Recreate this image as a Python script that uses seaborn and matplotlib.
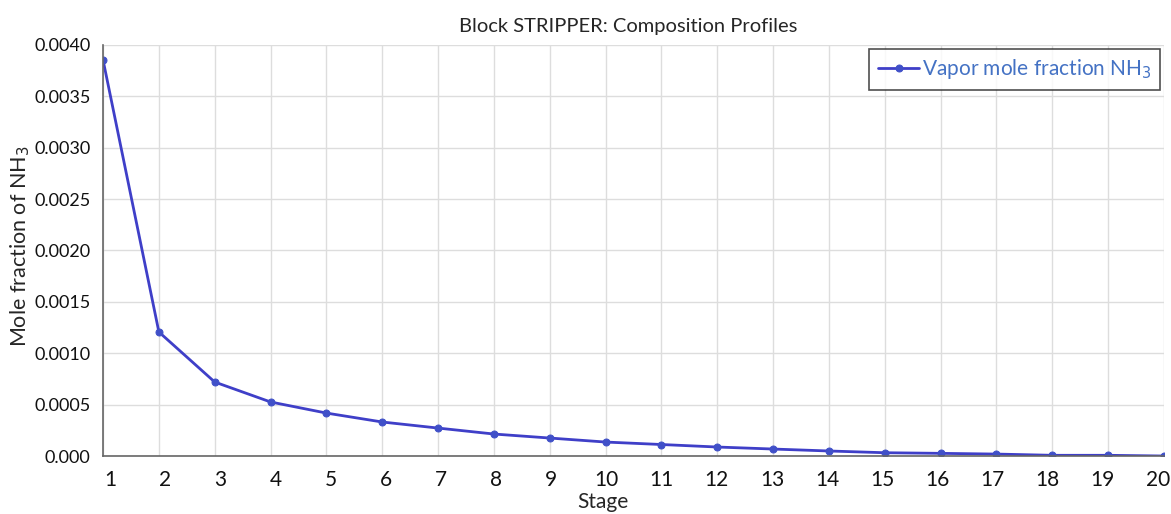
import matplotlib
matplotlib.use("Agg")
import matplotlib.pyplot as plt
import matplotlib.transforms as mtransforms
import seaborn as sns
import pandas as pd

stages = list(range(1, 21))
vapor_nh3 = [0.003854, 0.001207, 0.000720, 0.000526, 0.000418, 0.000331, 0.000272,
             0.000214, 0.000175, 0.000136, 0.000112, 0.0000876, 0.000068, 0.000049,
             0.000032, 0.000026, 0.000019, 0.000007, 0.000007, 0.0]
yticks = [0.0, 0.0005, 0.0010, 0.0015, 0.0020, 0.0025, 0.0030, 0.0035, 0.0040]
ytick_labels = ["0.000", "0.0005", "0.0010", "0.0015", "0.0020", "0.0025", "0.0030", "0.0035", "0.0040"]

sns.set_theme(style="whitegrid")
plt.rcParams['font.family'] = ['Lato', 'DejaVu Sans']

df = pd.DataFrame({"Stage": stages, "y": vapor_nh3})

fig = plt.figure(figsize=(11.71, 5.14), dpi=100)
ax = fig.add_axes([0.088, 0.1128, 0.906, 0.7997])
sns.lineplot(data=df, x="Stage", y="y", ax=ax, color="#3F3FC8", linewidth=2,
             marker="o", markersize=5, markerfacecolor="#4050C8", markeredgecolor="#4050C8",
             label="Vapor mole fraction NH$_3$")
ax.set_xlim(1, 20)
ax.set_ylim(0, 0.004)
ax.set_xticks(stages)
ax.set_yticks(yticks)
ax.set_yticklabels(ytick_labels)
ax.tick_params(axis='y', labelsize=13, colors="#111111", length=0, pad=9)
ax.tick_params(axis='x', labelsize=15, colors="#111111", length=0, pad=10)
n = len(stages)
for i, lab in enumerate(ax.get_xticklabels()):
    dx = (7 - 13 * i / (n - 1)) / 100.0
    lab.set_transform(lab.get_transform() + mtransforms.ScaledTranslation(dx, 0, fig.dpi_scale_trans))
ax.grid(True, color="#DDDDDD", linewidth=1)
for s in ["top", "right"]:
    ax.spines[s].set_visible(False)
for s in ["left", "bottom"]:
    ax.spines[s].set_color("#666666")
    ax.spines[s].set_linewidth(1.2)
ax.set_xlabel("Stage", fontsize=15)
ax.xaxis.set_label_coords(0.471, -0.088)
ax.xaxis.label.set_va("top")
ax.set_ylabel("Mole fraction of NH$_3$", fontsize=15.5)
ax.yaxis.set_label_coords(-0.067, 0.511)
ax.set_title("Block STRIPPER: Composition Profiles", fontsize=14.5, pad=9, x=0.495)
leg = ax.legend(loc="upper right", fontsize=15, frameon=True, fancybox=False,
                edgecolor="#222222", handlelength=2.0, handletextpad=0.1,
                borderaxespad=0.2, borderpad=0.4)
leg.get_frame().set_linewidth(1.2)
for t in leg.get_texts():
    t.set_color("#4472C4")
fig.savefig("out.png", dpi=100)
